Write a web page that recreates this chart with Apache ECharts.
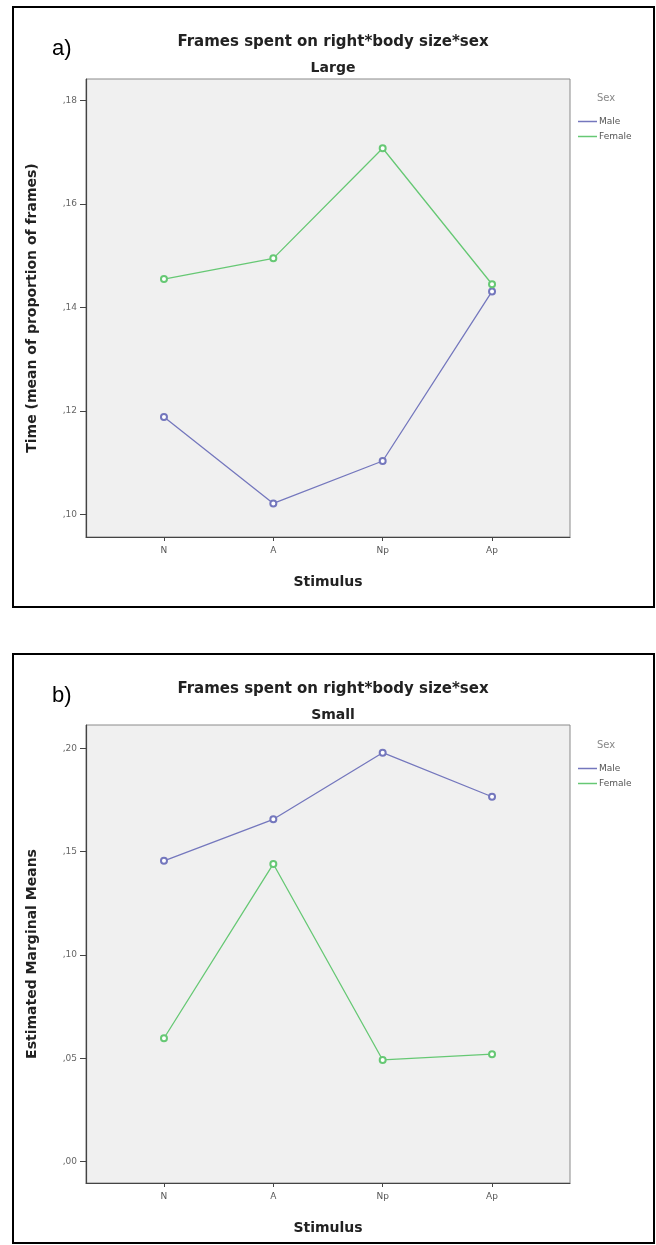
<!DOCTYPE html>
<html>
<head>
<meta charset="utf-8">
<script src="https://cdn.jsdelivr.net/npm/echarts@6/dist/echarts.min.js"></script>
<style>
html,body{margin:0;padding:0;background:#fff;}
#chart{width:656px;height:1245px;}
</style>
</head>
<body>
<div id="chart"></div>
<script>
// ---- data ----
const stimuli = ['N', 'A', 'Np', 'Ap'];
const largeMale   = [0.1188, 0.1021, 0.1103, 0.1431];
const largeFemale = [0.1455, 0.1495, 0.1708, 0.1445];
const smallMale   = [0.1455, 0.1656, 0.1978, 0.1765];
const smallFemale = [0.0597, 0.1440, 0.0492, 0.0520];
const largeTicks = [0.10, 0.12, 0.14, 0.16, 0.18];
const smallTicks = [0.00, 0.05, 0.10, 0.15, 0.20];
const mainTitle = 'Frames spent on right*body size*sex';
const panelTitles = ['Large', 'Small'];
const panelLetters = ['a)', 'b)'];
const yNames = ['Time (mean of proportion of frames)', 'Estimated Marginal Means'];
const xName = 'Stimulus';
const sexes = ['Male', 'Female'];
const legendTitle = 'Sex';

const MALE = '#7477bd', FEMALE = '#66c874';
const FONT = 'DejaVu Sans';

const chart = echarts.init(document.getElementById('chart'), null, {renderer: 'canvas'});

const panels = [
  {top: 7, gridTop: 79, yMin: 0.0956, yMax: 0.1842, ticks: largeTicks, male: largeMale, female: largeFemale},
  {top: 654, gridTop: 725, yMin: -0.0103, yMax: 0.2112, ticks: smallTicks, male: smallMale, female: smallFemale}
];

const fmtY = v => (Math.round(v * 100) / 100).toFixed(2).replace('0.', ',');

const grids = [], xAxes = [], yAxes = [], series = [], titles = [], legends = [], graphics = [];
panels.forEach((p, k) => {
  grids.push({left: 86, top: p.gridTop, width: 484, height: 458, show: true,
    backgroundColor: '#f0f0f0', borderColor: '#8a8a8a', borderWidth: 1});
  xAxes.push({type: 'value', gridIndex: k, min: -0.713, max: 3.713,
    name: xName, nameLocation: 'middle', nameGap: 38,
    nameTextStyle: {fontFamily: FONT, fontWeight: 'bold', fontSize: 14, color: '#222'},
    axisLine: {onZero: false, lineStyle: {color: '#444', width: 1.2}},
    axisTick: {customValues: stimuli.map((s, i) => i), length: 4, lineStyle: {color: '#444'}},
    axisLabel: {customValues: stimuli.map((s, i) => i), formatter: v => stimuli[Math.round(v)],
      fontFamily: FONT, fontSize: 9, color: '#555', margin: 9},
    splitLine: {show: false}});
  yAxes.push({type: 'value', gridIndex: k, min: p.yMin, max: p.yMax,
    name: yNames[k], nameLocation: 'middle', nameGap: 47,
    nameTextStyle: {fontFamily: FONT, fontWeight: 'bold', fontSize: 14, color: '#222'},
    axisLine: {show: true, onZero: false, lineStyle: {color: '#444', width: 1.2}},
    axisTick: {show: true, customValues: p.ticks, length: 6, lineStyle: {color: '#444'}},
    axisLabel: {customValues: p.ticks, formatter: fmtY, fontFamily: FONT, fontSize: 9, color: '#666', margin: 9},
    splitLine: {show: false}});
  [['Male', p.male, MALE], ['Female', p.female, FEMALE]].forEach(([nm, vals, col]) => {
    series.push({type: 'line', name: nm, xAxisIndex: k, yAxisIndex: k,
      data: stimuli.map((s, i) => [i, vals[i]]),
      symbol: 'emptyCircle', symbolSize: 6, color: col,
      lineStyle: {width: 1.3, color: col}, itemStyle: {color: col, borderWidth: 1},
      emphasis: {disabled: true}, animation: false});
  });
  titles.push({text: mainTitle, left: 328, top: p.top + 23, textAlign: 'center',
    textStyle: {fontFamily: FONT, fontWeight: 'bold', fontSize: 15, color: '#222'}});
  titles.push({text: panelTitles[k], left: 328, top: p.top + 49, textAlign: 'center',
    textStyle: {fontFamily: FONT, fontWeight: 'bold', fontSize: 14, color: '#222'}});
  titles.push({text: panelLetters[k], left: 47, top: p.top + 26,
    textStyle: {fontFamily: 'Liberation Sans', fontWeight: 'normal', fontSize: 22, color: '#000'}});
  titles.push({text: legendTitle, left: 592, top: p.top + 81,
    textStyle: {fontFamily: FONT, fontWeight: 'normal', fontSize: 10, color: '#888'}});
  legends.push({data: sexes, orient: 'vertical', left: 573, top: p.top + 105,
    icon: 'rect', itemWidth: 19, itemHeight: 1.5, itemGap: 6, selectedMode: false,
    textStyle: {fontFamily: FONT, fontSize: 9, color: '#555', padding: [0, 0, 0, -3]}});
  graphics.push({type: 'rect', shape: {x: 13, y: p.top, width: 641, height: k === 0 ? 600 : 589},
    style: {fill: 'none', stroke: '#000', lineWidth: 2}, silent: true});
});

chart.setOption({
  animation: false,
  backgroundColor: '#fff',
  title: titles,
  legend: legends,
  grid: grids,
  xAxis: xAxes,
  yAxis: yAxes,
  series: series,
  graphic: graphics
});
</script>
</body>
</html>
